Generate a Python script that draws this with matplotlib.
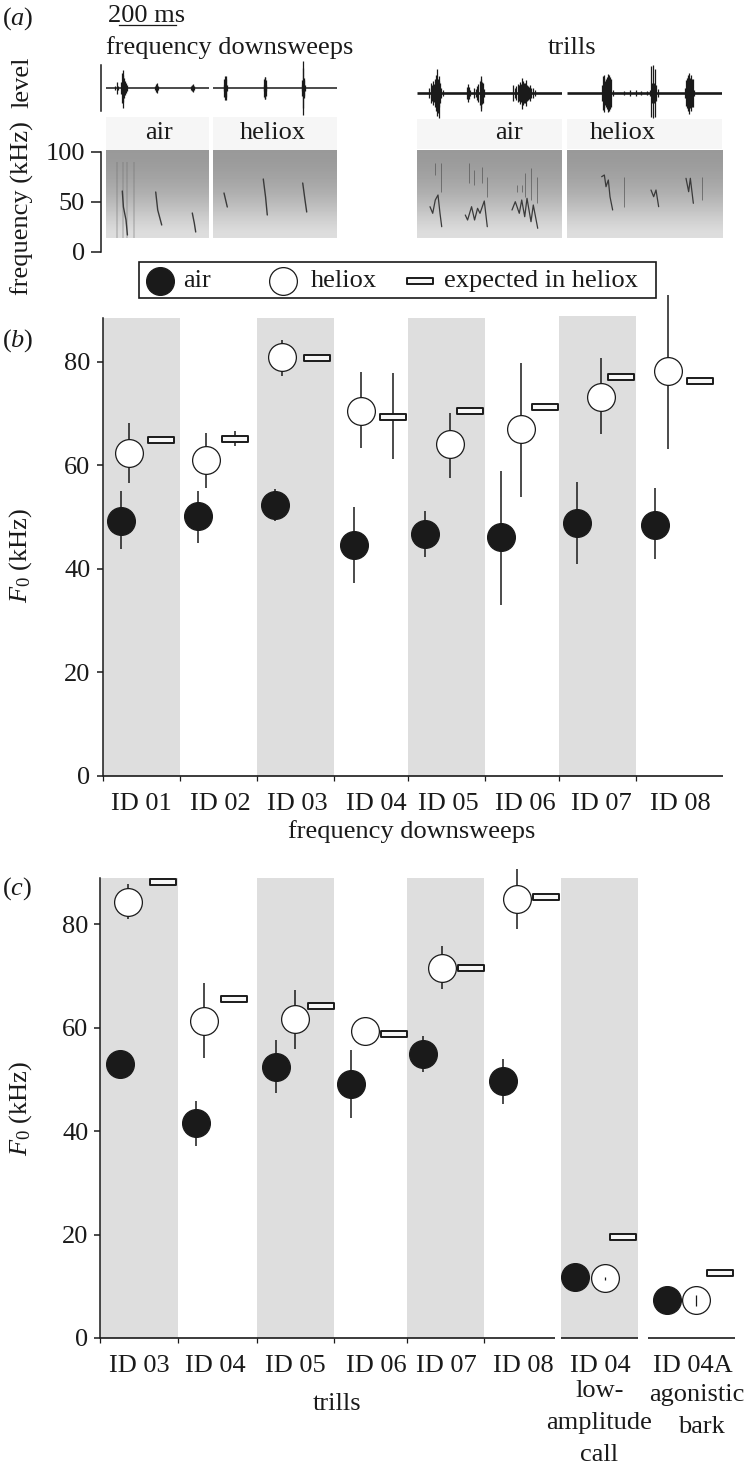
import matplotlib
matplotlib.use("Agg")
import matplotlib.pyplot as plt
import numpy as np
from matplotlib.path import Path

plt.rcParams['font.family'] = ['Liberation Serif', 'DejaVu Serif']
plt.rcParams['mathtext.fontset'] = 'custom'
plt.rcParams['mathtext.it'] = 'Liberation Serif:italic'
plt.rcParams['mathtext.rm'] = 'Liberation Serif'

W, H = 752, 1467
DPI = 100

# ---------- data: panel (b) frequency downsweeps ----------
b_ids = ["ID 01", "ID 02", "ID 03", "ID 04", "ID 05", "ID 06", "ID 07", "ID 08"]
b_air = [49.3, 50.1, 52.4, 44.6, 46.7, 46.1, 48.8, 48.5]
b_air_hi = [55.1, 55.1, 55.3, 52.0, 51.2, 58.9, 56.8, 55.5]
b_air_lo = [43.8, 45.0, 49.3, 37.2, 42.3, 33.0, 40.9, 41.8]
b_hel = [62.3, 61.0, 80.8, 70.5, 64.0, 66.9, 73.2, 78.1]
b_hel_hi = [68.1, 66.3, 84.2, 78.0, 70.1, 79.7, 80.6, 92.9]
b_hel_lo = [56.5, 55.6, 77.2, 63.3, 57.6, 53.8, 66.0, 63.1]
b_exp = [64.9, 65.0, 80.6, 69.3, 70.5, 71.2, 77.1, 76.3]
b_exp_hi = [64.9, 66.5, 80.6, 77.8, 70.5, 71.2, 77.1, 76.3]
b_exp_lo = [64.9, 63.7, 80.6, 61.1, 70.5, 71.2, 77.1, 76.3]

# ---------- data: panel (c) trills and other calls ----------
c_ids = ["ID 03", "ID 04", "ID 05", "ID 06", "ID 07", "ID 08", "ID 04", "ID 04A"]
c_air = [53.0, 41.5, 52.4, 49.1, 54.9, 49.7, 11.7, 7.3]
c_air_hi = [53.0, 45.8, 57.6, 55.6, 58.4, 54.0, 11.7, 7.3]
c_air_lo = [53.0, 37.2, 47.4, 42.6, 51.5, 45.3, 11.7, 7.3]
c_hel = [84.3, 61.2, 61.6, 59.4, 71.6, 84.9, 11.5, 7.3]
c_hel_hi = [87.7, 68.7, 67.2, 59.4, 75.8, 90.7, 11.7, 8.4]
c_hel_lo = [80.9, 54.2, 55.9, 59.4, 67.4, 79.0, 11.3, 6.2]
c_exp = [88.1, 65.6, 64.1, 58.7, 71.5, 85.3, 19.5, 12.6]

# ---------- data: panel (a) waveforms (ms, amplitude up, amplitude down) ----------
wave_dn_air = ([33, 37, 41, 54, 57, 59, 61, 63, 66, 70, 74, 173, 175, 177, 179, 181, 299, 301, 303, 305, 307],
               [2, 6, 2, 6, 15, 18, 13, 10, 7, 5, 3, 2, 4, 5, 3, 2, 2, 3, 4, 3, 2],
               [2, 6, 2, 6, 15, 20, 14, 10, 7, 5, 3, 2, 4, 5, 3, 2, 2, 3, 4, 3, 2])
wave_dn_hel = ([38, 40, 42, 44, 46, 48, 177, 179, 181, 183, 185, 187,
                310, 313, 315, 316, 318, 320, 323],
               [3, 9, 12, 12, 9, 3, 3, 9, 11, 11, 8, 3, 3, 8, 20, 27, 10, 8, 3],
               [3, 9, 12, 12, 9, 3, 3, 9, 11, 11, 8, 3, 3, 8, 20, 27, 10, 8, 3])
wave_tr_air = ([43, 49, 53, 57, 60, 64, 67, 71, 73, 75.5, 78, 81, 85, 90, 175, 178, 181, 184, 201, 206, 211,
                215, 220, 223, 225, 228, 231, 235, 337, 343, 347, 352, 356, 360, 363, 366, 370, 375, 378, 381,
                385, 388, 392, 395, 400, 405, 414],
               [5, 10, 8, 12, 9, 14, 18, 24, 14, 17, 12, 10, 5, 3, 6, 9, 6, 3, 5, 4, 7,
                9, 12, 14, 17, 11, 10, 4, 8, 5, 7, 9, 8, 11, 9, 15, 12, 10, 10, 13,
                8, 7, 6, 8, 5, 5, 3],
               [5, 10, 8, 12, 9, 14, 18, 23, 20, 25, 14, 10, 5, 3, 6, 9, 6, 3, 5, 4, 7,
                9, 12, 15, 18, 11, 10, 4, 8, 5, 7, 9, 8, 11, 9, 16, 12, 10, 10, 13,
                8, 7, 6, 8, 5, 5, 3])
wave_tr_hel = ([122, 125, 128, 131, 134, 136.5, 139, 142, 145, 148, 151, 154, 160, 200, 220, 240, 260, 280,
                291, 294, 297, 300, 303, 306, 309, 312, 317, 413, 416.5, 419, 422, 425, 428, 431, 434, 437, 440, 446],
               [8, 17, 15, 18, 12, 14, 16, 19, 15, 18, 16, 14, 3, 2, 3, 3, 2, 2,
                3, 27, 10, 28, 8, 10, 24, 8, 4, 5, 13, 15, 18, 16, 20, 15, 18, 14, 14, 3],
               [8, 17, 15, 19, 12, 14, 16, 19, 15, 18, 16, 14, 3, 2, 3, 3, 2, 2,
                3, 24, 10, 25, 8, 10, 24, 8, 4, 5, 13, 15, 18, 16, 21, 15, 18, 14, 14, 3])

# ---------- data: panel (a) spectrogram background, level by frequency ----------
spec_khz = [14, 25, 35, 50, 65, 85, 102]
spec_grey = [0.87, 0.81, 0.75, 0.69, 0.65, 0.62, 0.60]

# ---------- data: panel (a) call contours, (ms, kHz) ----------
calls_dn_air = [([57, 61, 70, 75], [61, 45, 32, 17]),
                ([174, 181, 195], [60, 42, 27]),
                ([302, 309, 314], [39, 29, 20])]
calls_dn_hel = [([38.5, 50], [59, 45]),
                ([176, 184, 190], [73, 55, 37]),
                ([314, 322, 328], [69, 52, 40])]
calls_tr_air = [([45.5, 55, 64, 73.5, 80.5, 86.5], [45.3, 38.7, 52, 57, 38.7, 25.3]),
                ([169, 177, 191, 201.5, 212, 220.5, 235.5, 246], [37, 32, 45.3, 32, 43.7, 38.7, 51, 25.3]),
                ([332.5, 344, 358, 366.5, 377, 385, 399, 407, 422.5], [42, 50.3, 38.7, 52, 35.3, 53.7, 30.3, 47, 23.7])]
calls_tr_hel = [([121.3, 130.7, 136.5, 144.7, 150.5, 159.8], [75.3, 77, 65.3, 72, 55.3, 42]),
                ([294, 303.3, 311.5, 320.8], [62, 55.3, 62, 45.3]),
                ([416.5, 425.8, 431.7, 442.2], [73.7, 60.3, 73.7, 48.7])]
harm_tr_air = ([64, 84, 181, 200.5, 227.5, 245, 349, 366.5, 378, 399, 420],
               [88.7, 88.7, 88.7, 82, 85.3, 75.3, 67, 67, 78.7, 83.7, 75.3],
               [77, 60.3, 68.7, 67, 68.7, 55.3, 60, 60, 55, 52, 48.7])
harm_tr_hel = ([200.7, 471], [75, 75], [45, 52])
streak_dn_air = [37, 60, 73, 98]

# ---------- layout (pixel positions in the figure) ----------
b_air_x = [121, 198, 274.7, 353.7, 425, 500.7, 577.3, 655.3]
b_hel_x = [129, 206, 282, 361.3, 449.7, 521, 600.7, 668.3]
b_exp_x = [160.5, 235, 316.7, 393, 469.7, 544.7, 621.3, 699.7]
b_bands = [(102.5, 180, 88.4), (257, 334, 88.4), (407.5, 485, 88.4), (559, 636, 88.8)]
b_label_x = [141.5, 220, 297.5, 376, 448, 525, 601, 680.5]
b_tick_x = [102.5, 180, 257, 334, 407.5, 485, 559, 636]
b_segments = [(102.5, 723)]

c_air_x = [120, 196, 275.7, 350.7, 422.7, 503, 575.3, 667]
c_hel_x = [128, 204, 294.7, 365, 441.7, 517, 605, 696]
c_exp_x = [163, 233.7, 321, 394, 470.8, 546.2, 622.7, 719.5]
c_bands = [(100.5, 178, 88.9), (257, 334.3, 88.9), (407, 484.3, 88.9), (561, 638, 88.9)]
c_label_x = [139.5, 215, 295, 376, 446, 523, 600, 693]
c_tick_x = [100.5, 178, 257, 334.3, 407, 484.3]
c_segments = [(100.5, 555), (561, 638), (648, 735)]

MS_PER_PX = 3.5
INK = '#1a1a1a'
BAND = '#dedede'
FS = 19

fig = plt.figure(figsize=(W / DPI, H / DPI), dpi=DPI, facecolor='white')


def px_axes(x0, y0, x1, y1, **kw):
    ax = fig.add_axes([x0 / W, 1 - y1 / H, (x1 - x0) / W, (y1 - y0) / H], **kw)
    ax.patch.set_alpha(0)
    return ax


# overlay for free text and legend
ov = px_axes(0, 0, W, H)
ov.set_xlim(0, W)
ov.set_ylim(H, 0)
ov.axis('off')
ov.set_zorder(10)


def T(x, y, s, **kw):
    kw.setdefault('fontsize', FS)
    kw.setdefault('ha', 'center')
    kw.setdefault('va', 'baseline')
    kw.setdefault('color', INK)
    ov.text(x, y, s, **kw)


RECT = Path([(-1, -0.2), (1, -0.2), (1, 0.2), (-1, 0.2), (-1, -0.2)], closed=True)


def circ(ax, x, y, fill):
    ax.plot(x, y, 'o', ms=20.0, mfc=fill, mec=INK, mew=0.9, ls='none', clip_on=False, zorder=4)


def rect(ax, x, y):
    ax.plot(x, y, marker=RECT, ms=18.2, mfc='#f7f7f7', mec=INK, mew=1.4, ls='none', clip_on=False, zorder=5)


# ---------- panel (a) ----------
def panel(x0, x1, hdr_top, hdr_bot, wave_top, wave_bot, base_lw, wave, calls, call_lw, harm=None, streaks=None):
    width_ms = (x1 - x0) * MS_PER_PX
    ov.fill_between([x0, x1], hdr_top, hdr_bot, color='#f6f6f6', lw=0, zorder=0)
    sp = px_axes(x0, 150, x1, 238)
    sp.imshow(np.array(spec_grey)[:, None], cmap='gray', vmin=0, vmax=1, aspect='auto', origin='lower',
              extent=(0, width_ms, spec_khz[0], spec_khz[-1]), interpolation='bicubic')
    sp.set_xlim(0, width_ms)
    sp.set_ylim(14, 102)
    sp.axis('off')
    if streaks:
        sp.vlines(streaks, 14, 90, color='#6e6e6e', lw=1.4, alpha=0.28)
    if harm:
        sp.vlines(harm[0], harm[2], harm[1], color='#555555', lw=0.7, alpha=0.7)
    for tx, ky in calls:
        sp.plot(tx, ky, color='#3a3a3a', lw=call_lw, solid_capstyle='round', solid_joinstyle='round')
    wv = px_axes(x0, wave_top, x1, wave_bot)
    wv.set_xlim(0, width_ms)
    wv.set_ylim(-30, 30)
    wv.axis('off')
    wv.plot([0, width_ms], [0, 0], color=INK, lw=base_lw, solid_capstyle='butt')
    t, u, d = wave
    wv.vlines(t, -np.array(d, float), np.array(u, float), color=INK, lw=0.9)


panel(106, 209, 117, 150, 58.3, 118.3, 1.1, wave_dn_air, calls_dn_air, 1.0, streaks=streak_dn_air)
panel(213, 337, 117, 150, 58.3, 118.3, 1.1, wave_dn_hel, calls_dn_hel, 1.0)
panel(417, 562, 119, 149, 62.5, 122.5, 1.9, wave_tr_air, calls_tr_air, 0.9, harm=harm_tr_air)
panel(567, 722, 119, 149, 62.5, 122.5, 1.9, wave_tr_hel, calls_tr_hel, 0.9, harm=harm_tr_hel)

fa = px_axes(101, 152, 102, 252)
fa.set_ylim(0, 100)
fa.set_xticks([])
fa.set_yticks([0, 50, 100])
fa.tick_params(axis='y', length=7.2, width=1.1, color=INK, labelsize=FS, labelcolor=INK, pad=4.5)
for s in ['top', 'right', 'bottom']:
    fa.spines[s].set_visible(False)
fa.spines['left'].set_linewidth(1.1)
fa.spines['left'].set_color(INK)

ov.plot([101, 101], [65, 111], color=INK, lw=1.1)
ov.plot([119, 176], [25, 25], color=INK, lw=0.9)
T(22, 82, 'level', rotation=90, va='center')
T(22, 208, 'frequency (kHz)', rotation=90, va='center')
T(147, 22, '200 ms')
T(230, 54, 'frequency downsweeps')
T(572, 54, 'trills')
T(159, 139, 'air')
T(273, 139, 'heliox')
T(509, 139, 'air')
T(623, 139, 'heliox')
T(2, 25, '($\\mathit{a}$)', ha='left')
T(2, 347, '($\\mathit{b}$)', ha='left')
T(2, 895, '($\\mathit{c}$)', ha='left')

# legend box
ov.add_patch(plt.Rectangle((139, 262), 517, 36, fc='white', ec=INK, lw=1.2, zorder=1))
ov.plot([160], [281], 'o', ms=20.0, mfc=INK, mec=INK, mew=0.9, zorder=3)
ov.plot([283], [281], 'o', ms=20.0, mfc='white', mec=INK, mew=0.9, zorder=3)
ov.plot([420], [281], marker=RECT, ms=18.2, mfc='#f7f7f7', mec=INK, mew=1.4, zorder=3)
T(183, 287, 'air', ha='left')
T(311, 287, 'heliox', ha='left')
T(444, 287, 'expected in heliox', ha='left')


# ---------- scatter panels ----------
def scatter_panel(y_top, y_zero, bands, segments, ticks_x, ids, lab_x, air_x, hel_x, exp_x,
                  air, air_hi, air_lo, hel, hel_hi, hel_lo, exp, exp_hi=None, exp_lo=None, ymax=88.4):
    x0 = segments[0][0]
    x1 = segments[-1][1]
    ax = px_axes(x0, y_top, x1, y_zero)
    ax.set_xlim(x0, x1)
    ax.set_ylim(0, ymax)
    for a, b, top in bands:
        ax.fill_between([a, b], 0, top, color=BAND, lw=0, zorder=0, clip_on=False)
    ax.vlines(air_x, air_lo, air_hi, color=INK, lw=1.1, zorder=2, clip_on=False)
    ax.vlines(hel_x, hel_lo, hel_hi, color=INK, lw=1.1, zorder=2, clip_on=False)
    circ(ax, air_x, air, INK)
    circ(ax, hel_x, hel, 'white')
    if exp_hi is not None:
        ax.vlines(exp_x, exp_lo, exp_hi, color=INK, lw=1.1, zorder=3, clip_on=False)
    rect(ax, exp_x, exp)
    ax.set_yticks([0, 20, 40, 60, 80])
    ax.set_xticks(ticks_x)
    ax.set_xticklabels([])
    ax.tick_params(axis='y', length=4.3, width=1.1, color=INK, labelsize=FS, labelcolor=INK, pad=4.5)
    ax.tick_params(axis='x', length=3.6, width=0.9, color=INK)
    for s in ['top', 'right', 'bottom']:
        ax.spines[s].set_visible(False)
    ax.spines['left'].set_linewidth(1.1)
    ax.spines['left'].set_color(INK)
    for a, b in segments:
        ax.plot([a, b], [0, 0], color=INK, lw=1.2, clip_on=False, zorder=6, solid_capstyle='butt')
    for x, s in zip(lab_x, ids):
        T(x, y_zero + 34, s)
    return ax


scatter_panel(318, 776, b_bands, b_segments, b_tick_x, b_ids, b_label_x, b_air_x, b_hel_x, b_exp_x,
              b_air, b_air_hi, b_air_lo, b_hel, b_hel_hi, b_hel_lo, b_exp, b_exp_hi, b_exp_lo)
T(412, 838, 'frequency downsweeps')
T(21, 555, '$\\mathit{F}_{0}$ (kHz)', rotation=90, va='center')

axc = scatter_panel(878, 1338, c_bands, c_segments, c_tick_x, c_ids, c_label_x, c_air_x, c_hel_x, c_exp_x,
                    c_air, c_air_hi, c_air_lo, c_hel, c_hel_hi, c_hel_lo, c_exp, ymax=88.9)
# error bars of the two extra call types lie inside their white circles
axc.vlines(c_hel_x[6:], c_hel_lo[6:], c_hel_hi[6:], color=INK, lw=0.9, zorder=6)
T(337, 1410, 'trills')
T(21, 1108, '$\\mathit{F}_{0}$ (kHz)', rotation=90, va='center')
T(599.7, 1397, 'low-')
T(599, 1429, 'amplitude')
T(599, 1461, 'call')
T(697, 1401, 'agonistic')
T(701, 1433, 'bark')

fig.savefig('out.png', dpi=DPI)
